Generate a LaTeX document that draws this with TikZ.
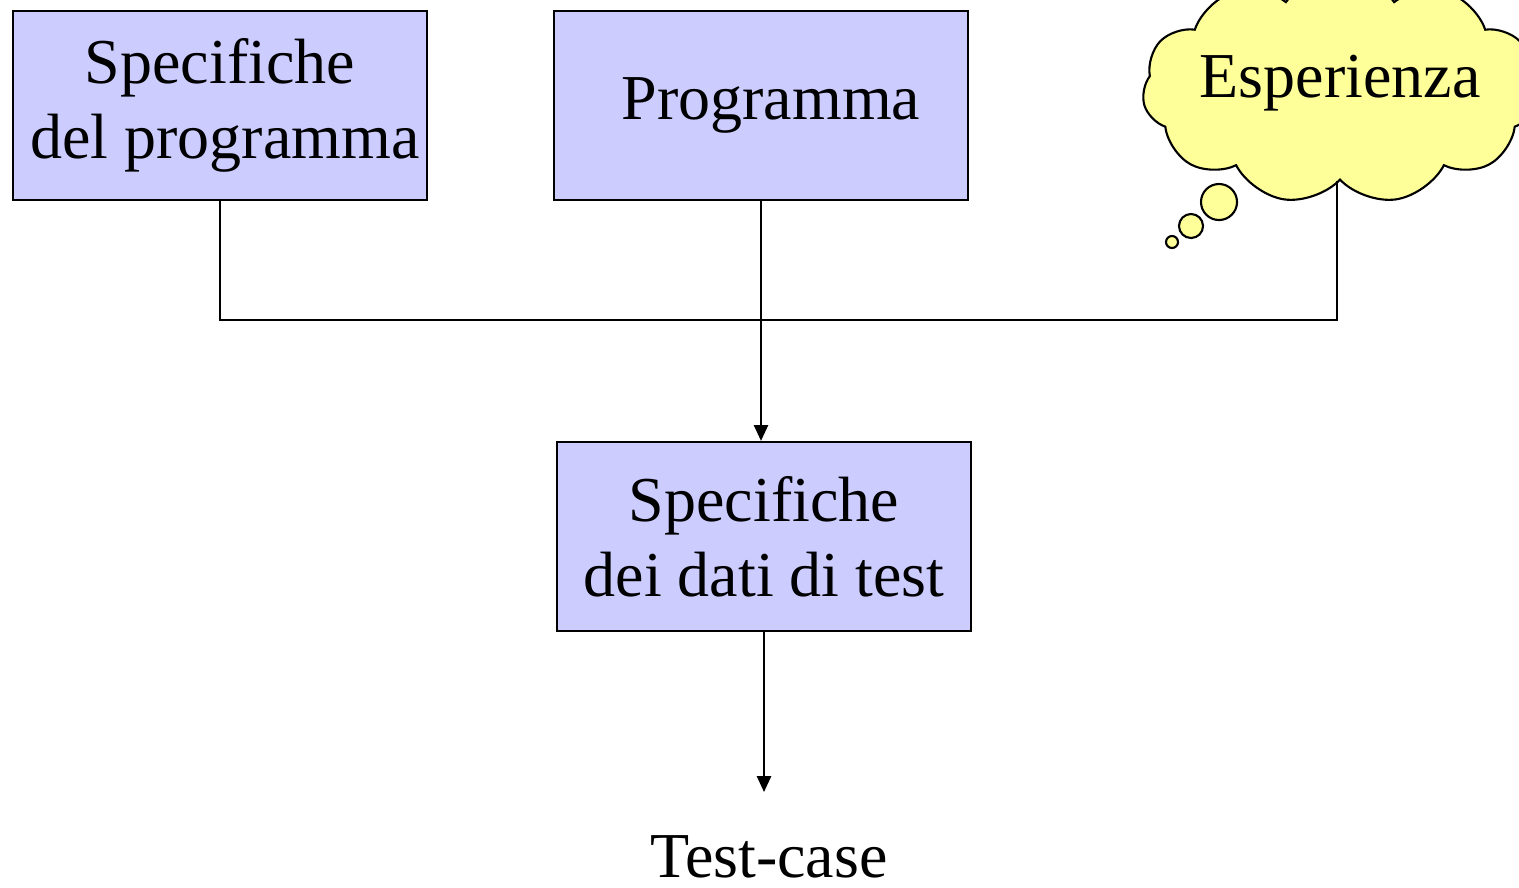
\documentclass[tikz,border=0pt]{standalone}
\usepackage{fontspec}
\setmainfont{Liberation Serif}
\usetikzlibrary{arrows.meta,shapes.symbols}
\tikzset{
  stepbox/.style={draw=black, line width=0.6pt, fill=boxblue, minimum width=4.14cm, minimum height=1.89cm, align=center, inner sep=0pt},
  link/.style={line width=0.6pt},
  linkarrow/.style={line width=0.6pt, -{Triangle[width=4pt,length=4.5pt]}},
  bubble/.style={draw=black, line width=0.6pt, fill=cloudyellow, circle, inner sep=0pt}
}
\definecolor{boxblue}{RGB}{204,204,255}
\definecolor{cloudyellow}{RGB}{255,255,153}
\begin{document}
\begin{tikzpicture}[x=0.01cm, y=-0.01cm, font=\fontsize{18.2}{21.3}\selectfont]
	%%%%% START %%%%%
	\useasboundingbox (0, 0) rectangle (1519, 887);
	\clip (0, 0) rectangle (1519, 887);
	
	\node[stepbox] (spec) at (220, 105.5) {Specifiche\\\hspace*{0.1cm}del programma};
	\node[stepbox] (prog) at (761, 105.5) {\hspace*{0.2cm}Programma};
	
	\node[draw=black, line width=0.6pt, fill=cloudyellow, cloud, cloud puffs=11, cloud puff arc=110, aspect=1.9, minimum width=3.95cm, minimum height=2.3cm] (cloud) at (1340, 89) {};
	\node (esp) at (1340, 83) {Esperienza};
	\node[bubble, minimum size=0.36cm] (b1) at (1219, 202) {};
	\node[bubble, minimum size=0.24cm] (b2) at (1191, 226) {};
	\node[bubble, minimum size=0.12cm] (b3) at (1172, 242) {};
	
	\node[stepbox] (dati) at (764, 536.5) {Specifiche\\dei dati di test};
	\node[anchor=base, inner sep=0pt] (test) at (769, 877) {Test-case};
	
	\coordinate (join) at (762, 320);
	\coordinate (tip) at (764, 792);
	
	\draw[link] (spec.south) |- (join);
	\draw[link] (cloud.south -| 1337, 0) |- (join);
	\draw[linkarrow] (prog.south) -- (dati.north -| prog.south);
	\draw[linkarrow] (dati.south) -- (tip);
	
	%%%%% END %%%%%
\end{tikzpicture}
\end{document}
